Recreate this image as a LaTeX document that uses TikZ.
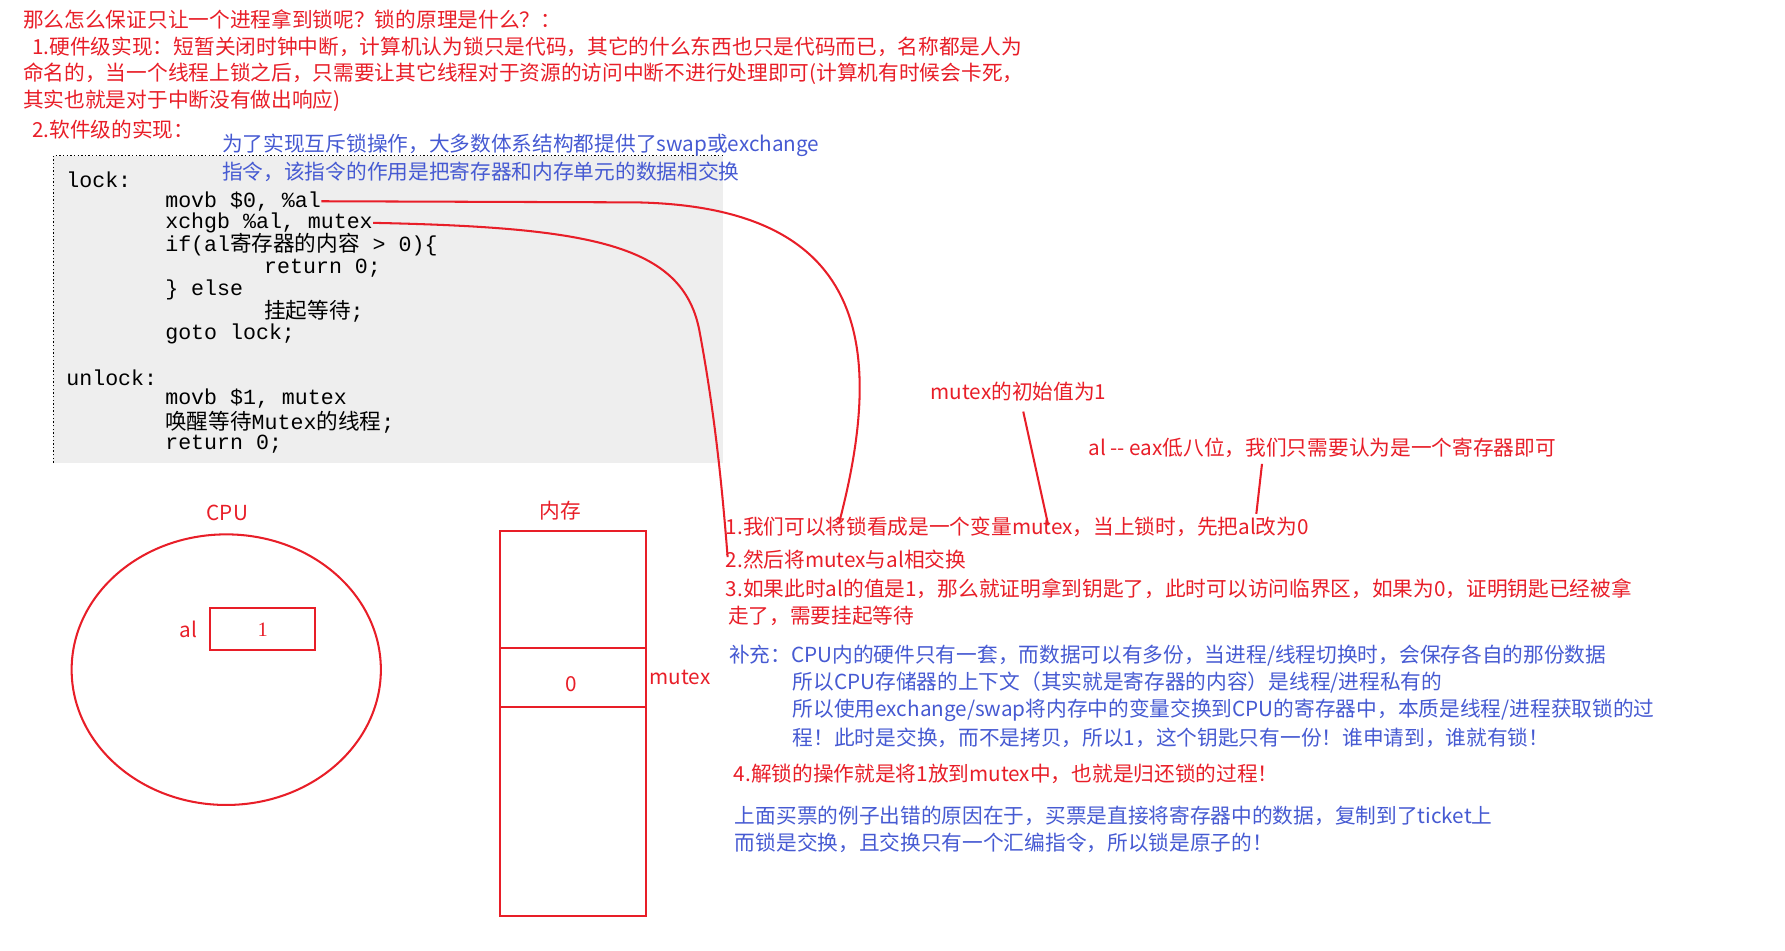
\documentclass[tikz,border=0pt]{standalone}
\usepackage{fontspec}
\setmainfont{Liberation Serif}
\newfontfamily\cjk{Noto Sans CJK SC}
\newfontfamily\code{Liberation Mono}
\definecolor{rd}{RGB}{232,30,40}
\definecolor{bl}{RGB}{70,90,210}
\definecolor{gr}{RGB}{238,238,238}
\begin{document}
\begin{tikzpicture}[x=0.5pt,y=-0.5pt,
  rt/.style={anchor=west,inner sep=0,text=rd,font=\cjk\fontsize{9.1}{10}\selectfont},
  bt/.style={anchor=west,inner sep=0,text=bl,font=\cjk\fontsize{9.1}{10}\selectfont},
  ct/.style={anchor=west,inner sep=0,font=\code\fontsize{9.5}{10}\selectfont},
  rl/.style={draw=rd,line width=0.9pt}]
\useasboundingbox (0,0) rectangle (1570,836);
% grey code box
\fill[gr] (47,137) rectangle (636,407);
\draw[densely dotted,line width=0.6pt] (47,407) -- (47,137) -- (636,137);
\node[rt] (t1) at (20,17) {那么怎么保证只让一个进程拿到锁呢？锁的原理是什么？：};
\node[rt] (t2) at (28,41) {1.硬件级实现：短暂关闭时钟中断，计算机认为锁只是代码，其它的什么东西也只是代码而已，名称都是人为};
\node[rt] (t3) at (20,65) {命名的，当一个线程上锁之后，只需要让其它线程对于资源的访问中断不进行处理即可(计算机有时候会卡死，};
\node[rt] (t4) at (20,89) {其实也就是对于中断没有做出响应)};
\node[rt] (t5) at (28,114) {2.软件级的实现：};
\node[bt] (b1) at (195,128) {为了实现互斥锁操作，大多数体系结构都提供了swap或exchange};
\node[bt] (b2) at (195,151) {指令，该指令的作用是把寄存器和内存单元的数据相交换};
% code
\node[ct] (c1) at (58,158) {lock:};
\node[ct] (c2) at (145,177) {movb \$0, \%al};
\node[ct] (c3) at (145,196) {xchgb \%al, mutex};
\node[ct] (c4) at (145,215) {if(al{\cjk 寄存器的内容} > 0)\{};
\node[ct] (c5) at (232,236) {return 0;};
\node[ct] (c6) at (145,255) {\} else};
\node[ct] (c7) at (232,274) {{\cjk 挂起等待};};
\node[ct] (c8) at (145,294) {goto lock;};
\node[ct] (c9) at (58,332) {unlock:};
\node[ct] (c10) at (145,351) {movb \$1, mutex};
\node[ct] (c11) at (145,371) {{\cjk 唤醒等待}Mutex{\cjk 的线程};};
\node[ct] (c12) at (145,391) {return 0;};
% right texts
\node[rt] (m1) at (818,344) {mutex的初始值为1};
\node[rt] (m2) at (957,394) {al -- eax低八位，我们只需要认为是一个寄存器即可};
\node[rt] (p1) at (638,463) {1.我们可以将锁看成是一个变量mutex，当上锁时，先把al改为0};
\node[rt] (p2) at (638,492) {2.然后将mutex与al相交换};
\node[rt] (p3) at (638,518) {3.如果此时al的值是1，那么就证明拿到钥匙了，此时可以访问临界区，如果为0，证明钥匙已经被拿};
\node[rt] (p3b) at (640,542) {走了，需要挂起等待};
\node[bt] (s1) at (641,577) {补充：CPU内的硬件只有一套，而数据可以有多份，当进程/线程切换时，会保存各自的那份数据};
\node[bt] (s2) at (697,600) {所以CPU存储器的上下文（其实就是寄存器的内容）是线程/进程私有的};
\node[bt] (s3) at (697,625) {所以使用exchange/swap将内存中的变量交换到CPU的寄存器中，本质是线程/进程获取锁的过};
\node[bt] (s4) at (697,649) {程！此时是交换，而不是拷贝，所以1，这个钥匙只有一份！谁申请到，谁就有锁！};
\node[rt] (p4) at (645,681) {4.解锁的操作就是将1放到mutex中，也就是归还锁的过程！};
\node[bt] (q1) at (646,718) {上面买票的例子出错的原因在于，买票是直接将寄存器中的数据，复制到了ticket上};
\node[bt] (q2) at (646,741) {而锁是交换，且交换只有一个汇编指令，所以锁是原子的！};
% curves
\draw[rl] (c2.east) -- (560,178) .. controls (760,182) and (780,300) .. (738,460);
\draw[rl] (c3.east) .. controls (520,200) and (600,215) .. (615,290) .. controls (630,370) and (636,440) .. (640,490);
\draw[rl] (900,362) -- (922,462);
\draw[rl] (1110,408) -- (1105,452);
% CPU
\node[rt,anchor=center] (cpu) at (200,451) {CPU};
\draw[rl] (199,589) ellipse [x radius=136, y radius=119];
\node[draw=rd,line width=0.9pt,minimum width=46pt,minimum height=18.5pt,inner sep=0,text=rd,font=\fontsize{9}{10}\selectfont] (reg) at (231,553.5) {1};
\node[rt,anchor=center] (al) at (166,554) {al};
% memory
\node[rt,anchor=center] (mem) at (493,449) {内存};
\draw[rl] (440,467) rectangle (568,806);
\draw[rl] (440,570) -- (568,570);
\draw[rl] (440,622) -- (568,622);
\node[rt,anchor=center] (zero) at (502,602) {0};
\node[rt,anchor=center] (mx) at (598,596) {mutex};
\end{tikzpicture}
\end{document}
